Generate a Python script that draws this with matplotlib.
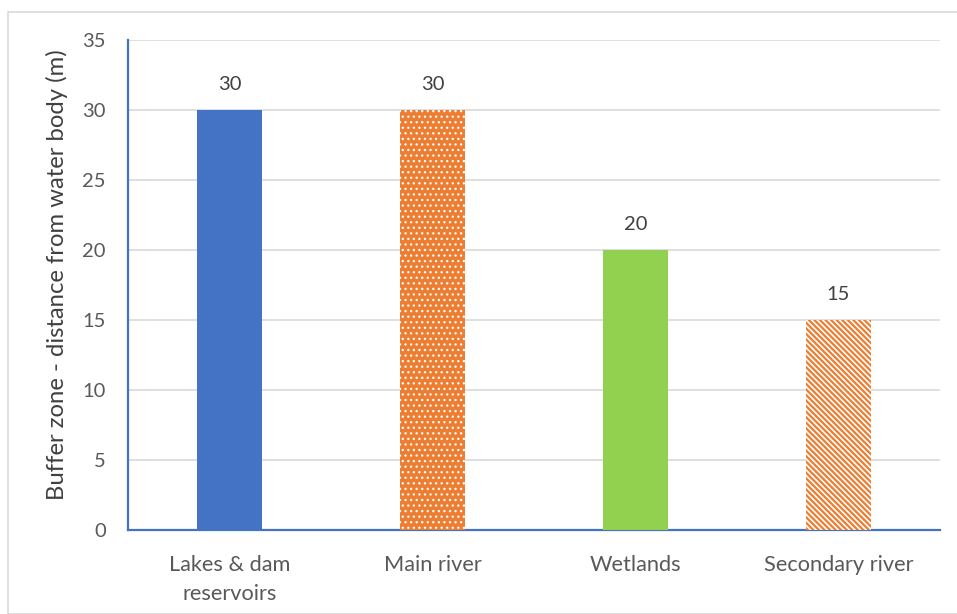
import matplotlib
matplotlib.use("Agg")
import matplotlib.pyplot as plt
from matplotlib.patches import Rectangle

plt.rcParams['font.family'] = ['Lato', 'DejaVu Sans']
plt.rcParams['hatch.linewidth'] = 1.6

categories = ["Lakes & dam\nreservoirs", "Main river", "Wetlands", "Secondary river"]
values = [30, 30, 20, 15]
yticks = [0, 5, 10, 15, 20, 25, 30, 35]
ylabel = "Buffer zone - distance from water body (m)"

W, H = 957, 614
fig = plt.figure(figsize=(W / 100, H / 100), dpi=100)
fig.patch.set_facecolor("white")

# outer chart frame
fig.patches.append(Rectangle((8 / W, 0), 1.0, 1 - 12 / H, transform=fig.transFigure,
                             fill=False, edgecolor="#d9d9d9", linewidth=1.2))

ax = fig.add_axes([128 / W, 1 - 530 / H, (940 - 128) / W, (530 - 40) / H])
x = range(len(categories))
bw = 0.316
orange = "#ed7d31"

styles = [
    dict(facecolor="#4472c4", edgecolor="#4472c4", hatch=None, hlw=None),
    dict(facecolor=orange, edgecolor="white", hatch="...", hlw=0.9),
    dict(facecolor="#92d050", edgecolor="#92d050", hatch=None, hlw=None),
    dict(facecolor="white", edgecolor=orange, hatch="\\\\\\\\\\\\", hlw=1.6),
]
for i, (v, st) in enumerate(zip(values, styles)):
    bars = ax.bar(i, v, width=bw, facecolor=st["facecolor"], edgecolor=st["edgecolor"],
                  hatch=st["hatch"], linewidth=0, zorder=3)
    if st["hlw"] is not None:
        for p in bars:
            if hasattr(p, "set_hatch_linewidth"):
                p.set_hatch_linewidth(st["hlw"])
    ax.text(i, v + 1.2, f"{v}", ha="center", va="bottom", fontsize=14.5, color="#404040")

ax.set_xlim(-0.5, len(categories) - 0.5)
ax.set_ylim(0, 35)
ax.set_yticks(yticks)
ax.set_yticklabels([str(t) for t in yticks])
ax.set_xticks(list(x))
ax.set_xticklabels(categories, fontsize=15.7, color="#595959", linespacing=1.55)
ax.tick_params(axis="y", labelsize=14.5, colors="#595959", length=0, pad=16)
ax.tick_params(axis="x", length=0, pad=18)
ax.grid(axis="y", color="#d9d9d9", linewidth=1.2, zorder=0)
for s in ["top", "right"]:
    ax.spines[s].set_visible(False)
for s in ["left", "bottom"]:
    ax.spines[s].set_color("#4472c4")
    ax.spines[s].set_linewidth(1.6)
ax.set_ylabel(ylabel, fontsize=17.2, color="#404040")
ax.yaxis.set_label_coords(-0.074, 0.521)

fig.savefig("out.png", dpi=100)
